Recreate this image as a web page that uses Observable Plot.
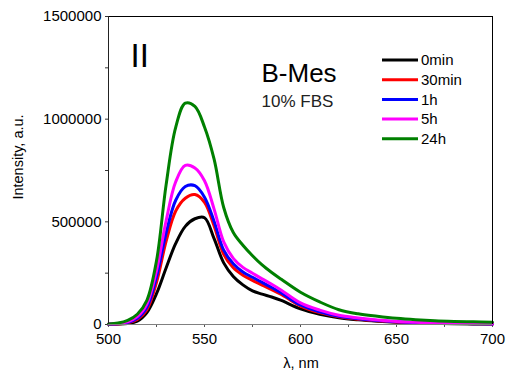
<!DOCTYPE html>
<html>
<head>
<meta charset="utf-8">
<script src="https://cdn.jsdelivr.net/npm/d3@7"></script>
<script src="https://cdn.jsdelivr.net/npm/@observablehq/plot@0.6"></script>
<style>
  html, body { margin: 0; padding: 0; background: #fff; }
  #chart svg { display: block; }
</style>
</head>
<body>
<div id="chart"></div>
<script>
const wavelength = [500, 505, 510, 515, 520, 525, 530, 535, 540, 545, 550, 555, 560, 565, 570, 575, 580, 585, 590, 600, 610, 620, 630, 640, 650, 660, 670, 680, 690, 700];
const series = ["0min", "30min", "1h", "5h", "24h"];
const colors = ["#000000", "#ff0000", "#0000ff", "#ff00ff", "#008000"];
const v0min  = [1000, 2000, 5000, 16000, 58000, 150000, 275000, 395000, 478000, 515000, 520000, 418000, 300000, 234000, 193000, 164000, 148000, 134000, 117000, 76000, 50000, 33000, 23000, 16000, 11000, 8000, 6000, 4000, 3000, 3000];
const v30min = [1000, 3000, 8000, 24000, 72000, 205000, 405000, 553000, 615000, 633000, 595000, 480000, 342000, 276000, 240000, 215000, 192000, 170000, 146000, 90000, 58000, 38000, 26000, 18000, 12000, 9000, 7000, 5000, 4000, 3000];
const v1h    = [1000, 4000, 10000, 30000, 84000, 232000, 445000, 605000, 672000, 676000, 620000, 502000, 362000, 296000, 256000, 230000, 205000, 180000, 153000, 95000, 62000, 40000, 28000, 19000, 13000, 9000, 7000, 5000, 4000, 3000];
const v5h    = [2000, 5000, 13000, 38000, 100000, 262000, 505000, 695000, 775000, 762000, 700000, 562000, 402000, 322000, 278000, 250000, 222000, 196000, 167000, 105000, 70000, 45000, 32000, 22000, 15000, 11000, 8000, 6000, 5000, 4000];
const v24h   = [3000, 7000, 20000, 50000, 118000, 310000, 680000, 960000, 1078000, 1062000, 962000, 805000, 570000, 448000, 386000, 335000, 290000, 253000, 220000, 157000, 110000, 72000, 52000, 40000, 30000, 23000, 18000, 15000, 13000, 11000];
const yMajor = [0, 500000, 1000000, 1500000];
const yMinor = [250000, 750000, 1250000];
const xMajor = [500, 550, 600, 650, 700];
const xMinor = [525, 575, 625, 675];

const valuesBySeries = [v0min, v30min, v1h, v5h, v24h];
const rows = [];
series.forEach((s, i) => {
  wavelength.forEach((w, j) => rows.push({series: s, w, v: valuesBySeries[i][j]}));
});
const legendRows = series.map((s, i) => ({series: s, i}));

const font = "Liberation Sans, Arial, sans-serif";

const plot = Plot.plot({
  width: 508,
  height: 378,
  marginLeft: 108,
  marginRight: 16,
  marginTop: 16,
  marginBottom: 54,
  style: {fontFamily: font, fontSize: "15px", color: "#000", background: "#fff"},
  x: {domain: [500, 700]},
  y: {domain: [0, 1500000]},
  color: {domain: series, range: colors},
  marks: [
    Plot.axisY({ticks: yMajor, tickFormat: d => String(d), tickSize: 3, tickPadding: 4, label: null, stroke: "#333"}),
    Plot.axisY({ticks: yMinor, tickFormat: null, text: null, tickSize: 3, label: null, stroke: "#333"}),
    Plot.axisX({ticks: xMajor, tickFormat: d => String(d), tickSize: 3, tickPadding: 6, label: null, stroke: "#555"}),
    Plot.axisX({ticks: xMinor, tickFormat: null, text: null, tickSize: 3, label: null, stroke: "#555"}),
    Plot.line(rows, {x: "w", y: "v", z: "series", stroke: "series", strokeWidth: 3, curve: "catmull-rom"}),
    Plot.ruleY([0], {stroke: "#808080", strokeWidth: 1.2}),
    Plot.ruleY([1500000], {stroke: "#000", strokeWidth: 1}),
    Plot.ruleX([500], {stroke: "#222", strokeWidth: 1}),
    Plot.ruleX([700], {stroke: "#000", strokeWidth: 1}),
    Plot.text(["II"], {frameAnchor: "top-left", dx: 22, dy: 27, fontSize: 33, textAnchor: "start", fill: "#000"}),
    Plot.text(["B-Mes"], {frameAnchor: "top-left", dx: 153, dy: 47, fontSize: 26, textAnchor: "start", fill: "#000"}),
    Plot.text(["10% FBS"], {frameAnchor: "top-left", dx: 153, dy: 78, fontSize: 17, textAnchor: "start", fill: "#222"}),
    Plot.ruleY(legendRows, {
      y: null,
      render: (index) => {
        const g = d3.create("svg:g").attr("text-anchor", "start");
        for (const i of index) {
          const d = legendRows[i];
          const yy = 60 + d.i * 19.7;
          g.append("line").attr("x1", 382).attr("x2", 418).attr("y1", yy).attr("y2", yy)
            .attr("stroke", colors[d.i]).attr("stroke-width", 3);
          g.append("text").attr("x", 421).attr("y", yy).attr("dy", "0.35em")
            .attr("text-anchor", "start")
            .attr("font-size", 15).attr("font-family", font).attr("fill", "#000").text(d.series);
        }
        return g.node();
      }
    })
  ]
});

const svg = d3.select(plot);
svg.append("text")
  .attr("transform", "translate(18,157) rotate(-90)")
  .attr("text-anchor", "middle").attr("dy", "0.35em")
  .attr("font-size", 14.5).attr("font-family", font).attr("fill", "#000")
  .text("Intensity, a.u.");
svg.append("text")
  .attr("x", 301).attr("y", 363)
  .attr("text-anchor", "middle").attr("dy", "0.35em")
  .attr("font-size", 14.5).attr("font-family", font).attr("fill", "#000")
  .text("λ, nm");

document.getElementById("chart").append(plot);
</script>
</body>
</html>
